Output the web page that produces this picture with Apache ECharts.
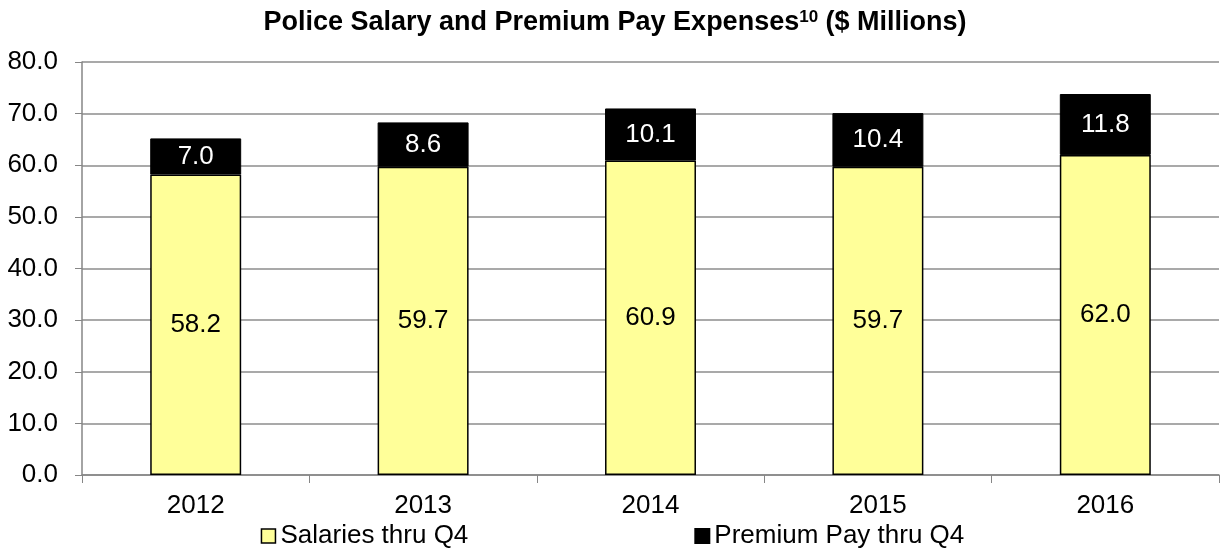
<!DOCTYPE html>
<html><head><meta charset="utf-8">
<script src="https://cdn.jsdelivr.net/npm/echarts@6/dist/echarts.min.js"></script>
<style>html,body{margin:0;padding:0;background:#fff}#c{width:1225px;height:552px}</style>
</head><body><div id="c"></div>
<script>
const categories = ['2012','2013','2014','2015','2016'];
const salaries = [58.2, 59.7, 60.9, 59.7, 62.0];
const premium = [7.0, 8.6, 10.1, 10.4, 11.8];
const yTicks = {min: 0, max: 80, interval: 10};

const chart = echarts.init(document.getElementById('c'));
const font = 'Liberation Sans, Arial, sans-serif';
chart.setOption({
  animation: false,
  title: {
    text: 'Police Salary and Premium Pay Expenses{sup|10} ($ Millions)',
    left: 610, top: 4, textAlign: 'center',
    textStyle: {fontFamily: font, fontSize: 27, fontWeight: 'bold', color: '#000',
      rich: {sup: {fontFamily: font, fontSize: 17, fontWeight: 'bold', verticalAlign: 'top', padding: [0,0,10,0], color:'#000'}}}
  },
  legend: {
    top: 518, left: 'center', itemGap: 226, itemWidth: 14, itemHeight: 14, icon: 'rect',
    textStyle: {fontFamily: font, fontSize: 26, color: '#000', padding: [0,0,0,0]},
    data: [{name: 'Salaries thru Q4', itemStyle:{borderColor:'#000',borderWidth:1.5}}, {name: 'Premium Pay thru Q4'}]
  },
  grid: {left: 82, right: 6, top: 62, bottom: 77, containLabel: false},
  xAxis: {
    type: 'category', data: categories,
    axisLine: {lineStyle: {color: '#868686', width: 1.5}},
    axisTick: {show: true, length: 8, lineStyle: {color: '#868686'}},
    axisLabel: {fontFamily: font, fontSize: 26, color: '#000', margin: 18}
  },
  yAxis: {
    type: 'value', min: yTicks.min, max: yTicks.max, interval: yTicks.interval,
    axisLine: {show: true, lineStyle: {color: '#868686', width: 1.5}},
    axisTick: {show: true, length: 7, lineStyle: {color: '#868686'}},
    splitLine: {lineStyle: {color: '#8c8c8c', width: 1.5}},
    axisLabel: {fontFamily: font, fontSize: 26, color: '#000', margin: 24, formatter: v => v.toFixed(1)}
  },
  series: [
    {name: 'Salaries thru Q4', type: 'bar', stack: 's', data: salaries, barWidth: '40%',
     itemStyle: {color: '#FFFF99', borderColor: '#000', borderWidth: 1.5},
     label: {show: true, position: 'inside', fontFamily: font, fontSize: 26, color: '#000', formatter: p => p.value.toFixed(1)}},
    {name: 'Premium Pay thru Q4', type: 'bar', stack: 's', data: premium, barWidth: '40%',
     itemStyle: {color: '#000', borderColor: '#000', borderWidth: 1},
     label: {show: true, position: 'inside', fontFamily: font, fontSize: 26, color: '#fff', formatter: p => p.value.toFixed(1)}}
  ]
});
</script></body></html>
